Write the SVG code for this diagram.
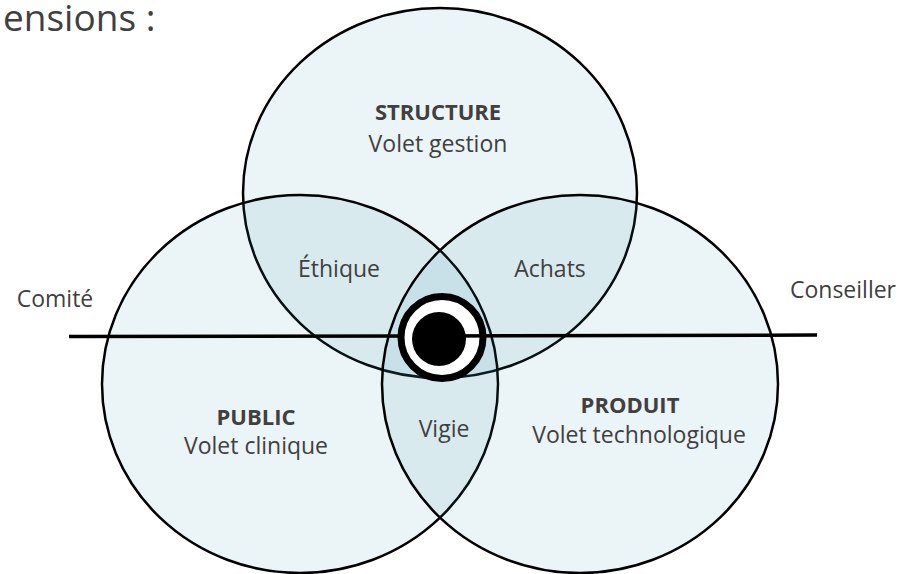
<svg xmlns="http://www.w3.org/2000/svg" width="910" height="574" viewBox="0 0 910 574">
  <style>
    .set { fill: rgb(55,145,175); fill-opacity: 0.1; stroke: #000; stroke-width: 2.5; }
    .t { font-family: "Open Sans", "Noto Sans", sans-serif; font-size: 23px; fill: #404040; text-anchor: middle; }
    .b { font-weight: bold; font-size: 22px; }
    .line { stroke: #000; stroke-width: 3.5; fill: none; }
  </style>
  <rect width="910" height="574" fill="#fff"/>
  <text x="3" y="31" font-family="'Open Sans', 'Noto Sans', sans-serif" font-size="37" fill="#404040">ensions :</text>
  <g id="structure">
    <ellipse class="set" cx="440" cy="193" rx="197" ry="185"/>
    <text class="t b" x="438" y="120">STRUCTURE</text>
    <text class="t" x="438" y="152">Volet gestion</text>
  </g>
  <g id="public">
    <ellipse class="set" cx="300" cy="384" rx="198" ry="189"/>
    <text class="t b" x="256" y="425">PUBLIC</text>
    <text class="t" x="256" y="454">Volet clinique</text>
  </g>
  <g id="produit">
    <ellipse class="set" cx="580" cy="384" rx="198" ry="189"/>
    <text class="t b" x="630" y="413">PRODUIT</text>
    <text class="t" x="639" y="443">Volet technologique</text>
  </g>
  <g id="ethique"><text class="t" x="339" y="277">Éthique</text></g>
  <g id="achats"><text class="t" x="550" y="277">Achats</text></g>
  <g id="vigie"><text class="t" x="444" y="437">Vigie</text></g>
  <g id="comite"><text class="t" x="55" y="307">Comité</text></g>
  <g id="conseiller"><text class="t" x="843" y="298">Conseiller</text></g>
  <g id="connectors">
    <line class="line" x1="69" y1="336.5" x2="410" y2="336"/>
  </g>
  <g id="center">
    <circle cx="442" cy="337.5" r="41" fill="#fff" stroke="#000" stroke-width="7"/>
    <line class="line" x1="440" y1="336" x2="817" y2="335"/>
    <circle cx="439" cy="339" r="27" fill="#000"/>
  </g>
</svg>
